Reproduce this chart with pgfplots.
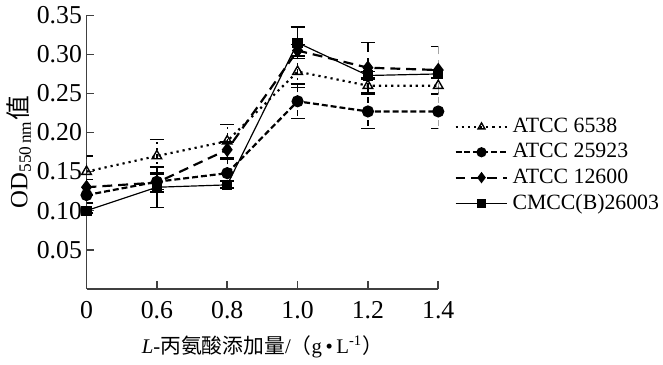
\documentclass[border=0pt]{standalone}
\usepackage{pgfplots}
\pgfplotsset{compat=1.18}
\usepackage{fontspec}
\setmainfont{Liberation Serif}
\newfontfamily\cjk{Noto Sans CJK SC}
\begin{document}
\begin{tikzpicture}
\begin{axis}[
  scale only axis=true,
  width=177.5pt, height=138pt,
  xmin=0, xmax=5, ymin=0, ymax=0.35,
  axis lines=left,
  axis line style={-, draw=black!75, line width=0.8pt},
  tick style={draw=black!75, line width=0.8pt},
  tick align=inside,
  major tick length=4pt,
  xtick={0,...,5},
  xticklabels={0,0.6,0.8,1.0,1.2,1.4},
  ytick={0.05,0.10,0.15,0.20,0.25,0.30,0.35},
  yticklabel style={xshift=1.2pt, /pgf/number format/.cd, fixed, fixed zerofill, precision=2},
  /pgf/number format/assume math mode=true,
  tick label style={font=\fontsize{13}{14}\selectfont},
  xticklabel style={yshift=-3pt},
  xlabel={\fontsize{10.5}{12}\selectfont\textit{L}-{\cjk 丙氨酸添加量}/{\cjk （}g\,•\,L\textsuperscript{-1}{\cjk ）}},
  ylabel={\fontsize{12.5}{14}\selectfont OD\textsubscript{550\,nm}{\cjk 值}},
  xlabel style={yshift=-1.5pt},
  ylabel style={yshift=-4pt},
  legend style={at={(1.045,0.64)}, anchor=north west, draw=none, fill=none, inner sep=0pt,
    font=\fontsize{11}{12}\selectfont, row sep=0pt, nodes={inner xsep=2pt}},
  legend cell align=left,
  legend image code/.code={\draw[#1] (0cm,0cm) -- (0.92cm,0cm); \draw[#1, solid, mark size=2pt] plot coordinates {(0.46cm,0cm)};},
  every axis plot/.append style={black},
  error bars/y dir=both, error bars/y explicit,
  error bars/error mark options={rotate=90, mark size=3.5pt, black, line width=0.7pt},
  error bars/error bar style={black, line width=0.7pt},
]
\addplot[dotted, line width=1.1pt, mark=triangle, mark size=2.8pt, mark options={solid, line width=0.7pt, fill=white}]
  coordinates {(0,0.150)+-(0,0.020) (1,0.170)+-(0,0.021) (2,0.189)+-(0,0.021) (3,0.278)+-(0,0.020) (4,0.260)+-(0,0.010) (5,0.260)+-(0,0.010)};
\addlegendentry{ATCC 6538}
\addplot[dash pattern=on 3pt off 1.5pt, line width=1.1pt, mark=*, mark size=2.5pt, mark options={solid}]
  coordinates {(0,0.120)+-(0,0.010) (1,0.137)+-(0,0.010) (2,0.148)+-(0,0.018) (3,0.240)+-(0,0.022) (4,0.227)+-(0,0.022) (5,0.227)+-(0,0.022)};
\addlegendentry{ATCC 25923}
\addplot[dash pattern=on 5pt off 3pt, line width=1.1pt, mark=diamond*, mark size=2.8pt, mark options={solid}]
  coordinates {(0,0.130)+-(0,0.010) (1,0.136)+-(0,0.012) (2,0.178)+-(0,0.010) (3,0.305)+-(0,0.008) (4,0.283)+-(0,0.032) (5,0.280)+-(0,0.030)};
\addlegendentry{ATCC 12600}
\addplot[solid, line width=0.6pt, mark=square*, mark size=2.3pt, mark options={solid}]
  coordinates {(0,0.100)+-(0,0.003) (1,0.130)+-(0,0.026) (2,0.133)+-(0,0.005) (3,0.315)+-(0,0.020) (4,0.273)+-(0,0.005) (5,0.275)+-(0,0.005)};
\addlegendentry{CMCC(B)26003}
\end{axis}
\end{tikzpicture}
\end{document}
